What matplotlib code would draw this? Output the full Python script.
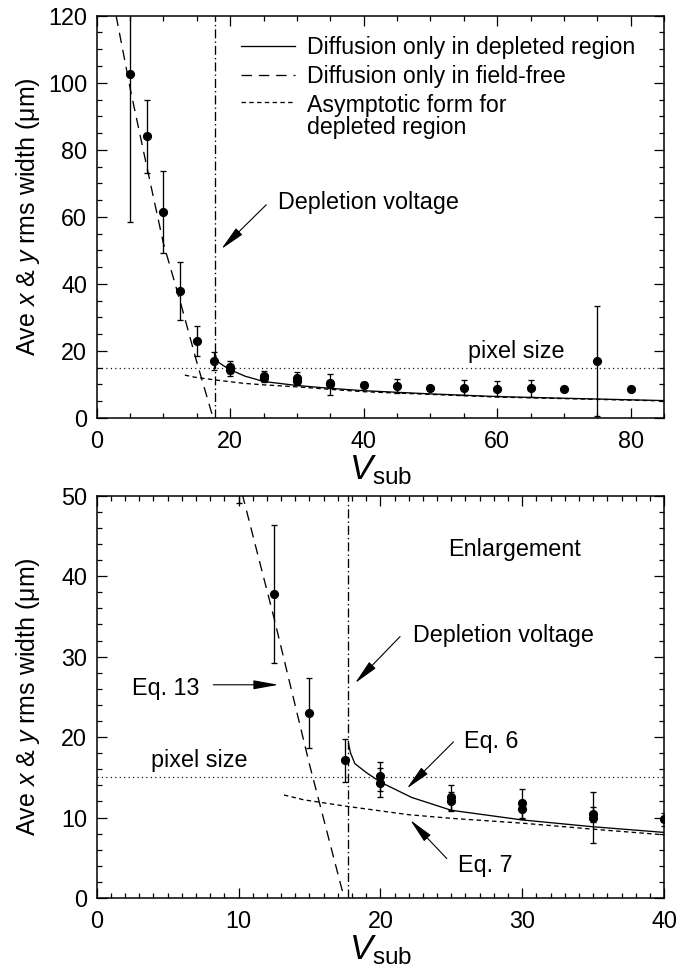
# -*- coding: utf-8 -*-
"""
Vsub 与像素展宽（x、y rms 平均宽度）关系图：全范围 + 放大图
"""

import matplotlib
matplotlib.use('Agg')
import matplotlib.pyplot as plt
from matplotlib.lines import Line2D
from matplotlib.ticker import MultipleLocator


# =====================================
#          数据区
# =====================================
# 测量点（同一电压下有多次测量）
V_SUB = [5, 7.5, 10, 12.5, 15, 17.5, 20, 20, 25, 25, 30, 30, 35, 35,
         40, 45, 50, 55, 60, 65, 70, 75, 80]
WIDTH = [102.5, 84.0, 61.4, 37.8, 23.0, 17.1, 15.1, 14.3, 12.5, 12.0, 11.8, 11.0, 10.0, 10.4,
         9.8, 9.55, 8.9, 9.05, 8.75, 8.9, 8.55, 17.0, 8.55]
WIDTH_ERR = [44.0, 11.0, 12.3, 8.6, 4.4, 2.7, 1.8, 1.8, 1.6, 1.2, 1.8, 1.2, 3.2, 0.9,
             0.8, 2.0, 0.5, 2.3, 2.2, 2.5, 0.5, 16.4, 0.6]

# 模型曲线：仅耗尽区扩散（Eq. 6）
DEPL_V = [17.75, 17.9, 18.2, 19.0, 20.0, 22.2, 25, 30, 35, 40, 50, 60, 70, 85]
DEPL_W = [19.2, 18.0, 16.7, 15.6, 14.4, 12.5, 10.9, 9.7, 8.85, 8.15, 7.2, 6.4, 5.9, 5.2]

# 模型曲线：仅无场区扩散（Eq. 13）
FREE_V = [2.9, 5.1, 7.5, 10.0, 12.5, 15.0, 17.4]
FREE_W = [120.0, 97.4, 75.0, 52.0, 34.8, 16.6, 0.3]

# 耗尽区渐近形式（Eq. 7）
ASYM_V = [13.2, 14.6, 17.6, 22.0, 25, 30, 35, 40, 60, 85]
ASYM_W = [12.8, 12.2, 11.4, 10.35, 9.9, 9.3, 8.55, 7.85, 6.25, 5.1]

DEPLETION_VOLTAGE = 17.7
PIXEL_SIZE = 15

LEGEND_LABELS = ["Diffusion only in depleted region",
                 "Diffusion only in field-free",
                 "Asymptotic form for", "depleted region"]


# =====================================
#          样式
# =====================================
plt.rcParams.update({
    'font.family': ['Liberation Sans', 'DejaVu Sans'],
    'font.size': 16.8,
    'mathtext.fontset': 'custom',
    'mathtext.rm': 'Liberation Sans',
    'mathtext.it': 'Liberation Sans:italic',
    'mathtext.bf': 'Liberation Sans:bold',
    'lines.scale_dashes': False,
    'axes.linewidth': 1.1,
})

SOLID = dict(color='k', lw=0.95, ls='-')
LONG_DASH = dict(color='k', lw=0.95, ls=(0, (7.5, 5)))
SHORT_DASH = dict(color='k', lw=0.95, ls=(0, (3.2, 2.4)))
DOTTED = dict(color='k', lw=0.9, ls=(0, (0.8, 2.4)))
DASH_DOT = dict(color='k', lw=0.95, ls=(0, (6.5, 2.2, 1.0, 2.2)))
ARROW = dict(arrowstyle='-|>,head_length=1.1,head_width=0.2', mutation_scale=14,
             color='k', lw=0.8, shrinkA=0, shrinkB=0)


def setup_axes(ax, xmax, ymax, xmaj, xmin, ymaj, ymin):
    ax.set_xlim(0, xmax)
    ax.set_ylim(0, ymax)
    ax.xaxis.set_major_locator(MultipleLocator(xmaj))
    ax.xaxis.set_minor_locator(MultipleLocator(xmin))
    ax.yaxis.set_major_locator(MultipleLocator(ymaj))
    ax.yaxis.set_minor_locator(MultipleLocator(ymin))
    ax.tick_params(which='both', direction='in', top=True, right=True, width=0.9)
    ax.tick_params(which='major', length=7)
    ax.tick_params(which='minor', length=3.6)
    ax.tick_params(axis='x', pad=8.5)
    ax.tick_params(axis='y', pad=7)
    ax.set_ylabel('Ave $x$ & $y$ rms width (μm)', fontsize=18)
    ax.yaxis.set_label_coords(-0.097, 0.5)
    ax.set_xlabel(r'$V_{\mathrm{sub}}$', fontsize=25)
    ax.xaxis.set_label_coords(0.5, -0.087)


def draw_common(ax):
    ax.plot(DEPL_V, DEPL_W, **SOLID)
    ax.plot(FREE_V, FREE_W, **LONG_DASH)
    ax.plot(ASYM_V, ASYM_W, **SHORT_DASH)
    ax.axhline(PIXEL_SIZE, **DOTTED)
    ax.axvline(DEPLETION_VOLTAGE, **DASH_DOT)
    ax.errorbar(V_SUB, WIDTH, yerr=WIDTH_ERR, fmt='o', color='k', ms=5.6,
                elinewidth=0.95, capsize=2.0, capthick=0.95)


# =====================================
#          画图
# =====================================
fig = plt.figure(figsize=(6.91, 9.69), dpi=100)

# ---- 上图：全范围 ----
ax1 = fig.add_axes([0.140, 0.5686, 0.821, 0.4152])
setup_axes(ax1, 85, 120, 20, 5, 20, 5)
draw_common(ax1)

# 图例（手工摆放）
key_x = [0.254, 0.3496]
text_x = 0.371
for y, style in zip([0.9247, 0.8519, 0.7862], [SOLID, LONG_DASH, SHORT_DASH]):
    ax1.add_line(Line2D(key_x, [y, y], transform=ax1.transAxes, **style))
for y, label in zip([0.9041, 0.832, 0.7614, 0.7052], LEGEND_LABELS):
    ax1.text(text_x, y, label, transform=ax1.transAxes, va='baseline', fontsize=16.7)

ax1.annotate('', xy=(18.66, 50.4), xytext=(25.4, 63.6), arrowprops=ARROW)
ax1.text(27.2, 62.3, 'Depletion voltage', va='baseline')
ax1.text(55.6, 17.8, 'pixel size', va='baseline')

# ---- 下图：放大 ----
ax2 = fig.add_axes([0.140, 0.0733, 0.821, 0.4151])
setup_axes(ax2, 40, 50, 10, 1, 10, 2)
draw_common(ax2)

ax2.text(24.8, 42.5, 'Enlargement', va='baseline')
ax2.annotate('', xy=(18.21, 26.7), xytext=(21.39, 32.5), arrowprops=ARROW)
ax2.text(22.33, 31.8, 'Depletion voltage', va='baseline')
ax2.annotate('', xy=(21.86, 13.6), xytext=(25.15, 19.4), arrowprops=ARROW)
ax2.text(25.9, 18.6, 'Eq. 6', va='baseline')
ax2.annotate('', xy=(22.1, 9.7), xytext=(24.68, 4.9), arrowprops=ARROW)
ax2.text(25.46, 3.27, 'Eq. 7', va='baseline')
ax2.annotate('', xy=(12.81, 26.5), xytext=(8.22, 26.5), arrowprops=ARROW)
ax2.text(2.47, 25.2, 'Eq. 13', va='baseline')
ax2.text(3.8, 16.3, 'pixel size', va='baseline')

plt.savefig('out.png', dpi=100)
plt.close()
